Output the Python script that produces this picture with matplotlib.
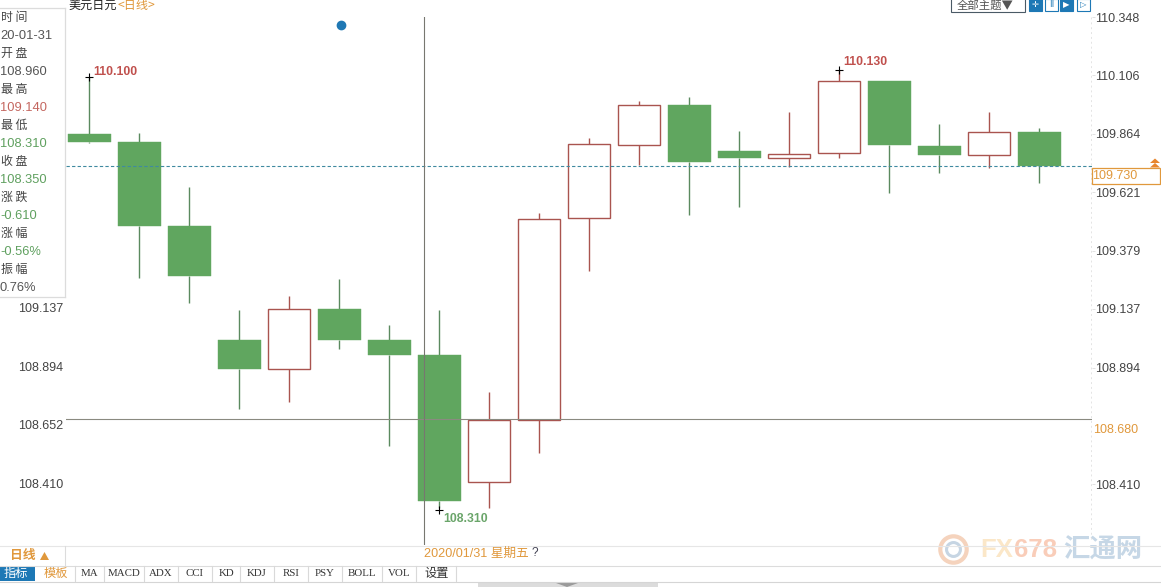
import matplotlib
matplotlib.use("Agg")
import matplotlib.pyplot as plt
from matplotlib.patches import Rectangle, Polygon

FONT = ['Liberation Sans', 'Noto Sans CJK SC', 'DejaVu Sans']
CJK = ['Noto Sans CJK SC', 'DejaVu Sans']
plt.rcParams['font.family'] = FONT

# ---- data -----------------------------------------------------------
opens  = [109.864, 109.831, 109.483, 109.010, 108.890, 109.138, 109.010, 108.948, 108.421, 108.678,
          109.516, 109.818, 109.984, 109.793, 109.765, 109.785, 110.084, 109.814, 109.777, 109.872]
closes = [109.831, 109.483, 109.275, 108.890, 109.138, 109.010, 108.948, 108.342, 108.678, 109.512,
          109.823, 109.984, 109.748, 109.765, 109.781, 110.084, 109.818, 109.777, 109.872, 109.730]
highs  = [110.100, 109.868, 109.644, 109.134, 109.192, 109.263, 109.072, 109.134, 108.794, 109.537,
          109.847, 110.001, 110.017, 109.876, 109.955, 110.129, 110.084, 109.905, 109.955, 109.889]
lows   = [109.827, 109.267, 109.163, 108.724, 108.753, 108.973, 108.570, 108.310, 108.310, 108.541,
          109.296, 109.735, 109.528, 109.561, 109.727, 109.765, 109.619, 109.702, 109.723, 109.661]
right_ticks = [110.348, 110.106, 109.864, 109.621, 109.379, 109.137, 108.894, 108.410]
left_ticks = [109.137, 108.894, 108.652, 108.410]
last_price = 109.730
cross_price = 108.680
cross_index = 7
info_labels = ['时 间', '开 盘', '最 高', '最 低', '收 盘', '涨 跌', '涨 幅', '振 幅']
info_values = ['20-01-31', '108.960', '109.140', '108.310', '108.350', '-0.610', '-0.56%', '0.76%']
info_colors = ['#555555', '#555555', '#c4665f', '#5fa05f', '#5fa05f', '#5fa05f', '#5fa05f', '#555555']
tool_tabs = ['MA', 'MACD', 'ADX', 'CCI', 'KD', 'KDJ', 'RSI', 'PSY', 'BOLL', 'VOL']

W, H = 1161, 587
GREEN = '#60a65f'
RED = '#a9544f'
WICK_G = '#5b8a5f'
ORANGE = '#e0983c'

fig = plt.figure(figsize=(W / 100, H / 100), dpi=100, facecolor='white')

# ---- price axes ------------------------------------------------------
L, R, T, B = 66, 1092, 17, 545
ax = fig.add_axes([L / W, 1 - B / H, (R - L) / W, (B - T) / H])
ax.set_xlim(-0.46, 20.06)
ax.set_ylim(108.158, 110.347)
for s in ax.spines.values():
    s.set_visible(False)
ax.set_xticks([])
ax.yaxis.tick_right()
ax.set_yticks(right_ticks)
ax.set_yticklabels([f'{v:.3f}' for v in right_ticks], fontsize=9, color='#444444')
ax.tick_params(axis='y', length=2, width=0.6, color='#dddddd', pad=0)

for i, (o, c, h, l) in enumerate(zip(opens, closes, highs, lows)):
    up = c > o
    col = RED if up else WICK_G
    bot, top = min(o, c), max(o, c)
    ax.plot([i, i], [top, h], color=col, lw=1.0, zorder=2, solid_capstyle='butt')
    ax.plot([i, i], [l, bot], color=col, lw=1.0, zorder=2, solid_capstyle='butt')
    if up:
        ax.add_patch(Rectangle((i - 0.42, bot), 0.84, top - bot, fc='white', ec=RED, lw=1.0, zorder=3))
    else:
        ax.add_patch(Rectangle((i - 0.43, bot), 0.86, top - bot, fc=GREEN, ec=GREEN, lw=0.3, zorder=3))

ax.axhline(last_price, color='#3f8aa0', lw=0.8, ls=(0, (3, 2)), zorder=4)
ax.axhline(cross_price, color='#8a8a80', lw=0.8, zorder=5)
ax.axvline(cross_index - 0.3, color='#777770', lw=0.8, zorder=5)

ax.plot([0], [highs[0]], marker='+', color='black', ms=5.5, mew=0.8, zorder=6)
ax.plot([15], [highs[15]], marker='+', color='black', ms=5.5, mew=0.8, zorder=6)
ax.plot([7], [lows[7] - 0.005], marker='+', color='black', ms=5.5, mew=0.8, zorder=6)
ax.annotate('110.100', (0, highs[0]), xytext=(3, -1), textcoords='offset points', color='#c0504d',
            fontsize=8.8, fontweight='bold', va='bottom', zorder=6)
ax.annotate('110.130', (15, highs[15]), xytext=(3, 1), textcoords='offset points', color='#c0504d',
            fontsize=8.8, fontweight='bold', va='bottom', zorder=6)
ax.annotate('108.310', (7, lows[7]), xytext=(3, -3), textcoords='offset points', color='#6aa56a',
            fontsize=8.8, fontweight='bold', va='top', zorder=6)

# ---- interface overlay, in pixel coordinates --------------------------
ui = fig.add_axes([0, 0, 1, 1], facecolor='none')
ui.set_xlim(0, W)
ui.set_ylim(H, 0)
ui.axis('off')

def txt(x, y, s, size=9, color='#444444', ha='left', fam=None, **kw):
    ui.text(x, y, s, fontsize=size, color=color, ha=ha, va='center', family=fam or FONT, **kw)

def hline(x0, x1, y, color='#d9d9d9', lw=0.8, **kw):
    ui.plot([x0, x1], [y, y], color=color, lw=lw, **kw)

def vline(x, y0, y1, color='#d9d9d9', lw=0.8, **kw):
    ui.plot([x, x], [y0, y1], color=color, lw=lw, **kw)

# left information panel
hline(0, 65, 8, color='#dcdcdc', lw=0.9)
hline(0, 65, 297, color='#dcdcdc', lw=0.9)
vline(65, 8, 297, color='#dcdcdc', lw=0.9)
for i, (lab, val, col) in enumerate(zip(info_labels, info_values, info_colors)):
    txt(1, 17 + 36 * i, lab, size=8.6, color='#444444', fam=CJK)
    txt(0, 36 + 36 * i, val, size=9.3, color=col)

for v in left_ticks:
    y = ax.transData.transform((0, v))[1]
    txt(63, H - y + 0.5, f'{v:.3f}', size=9, ha='right')

# title
txt(68, 5.5, '美元日元', size=8.7, color='#222222', fam=CJK)
txt(117, 5.5, '<日线>', size=8.7, color=ORANGE, fam=CJK)

# blue dot
ui.plot([340.5], [25], marker='o', ms=6, color='#1f78b4', mec='#1f78b4')

# top-right buttons
ui.add_patch(Rectangle((950.5, -2), 74, 13.5, fc='white', ec='#4a5a66', lw=0.8))
txt(957, 5.5, '全部主题▼', size=8.2, color='#555555', fam=CJK)
for x, filled, glyph in [(1029, True, '✛'), (1045, False, 'Ⅱ'), (1060, True, '▶'), (1077, False, '▷')]:
    ui.add_patch(Rectangle((x, -1), 13, 12, fc='#1d78b5' if filled else 'white', ec='#1d78b5', lw=0.8))
    txt(x + 6.5, 4.5, glyph, size=6, color='white' if filled else '#1d78b5', ha='center', fam=['DejaVu Sans'])

# right-hand current price box
vline(1091, 17, 540, color='#e4e4e4', lw=0.7, ls=(0, (2, 3)))
ui.add_patch(Rectangle((1091.5, 168), 68, 15.5, fc='white', ec=ORANGE, lw=0.9, zorder=6))
txt(1092, 176, '109.730', size=9, color=ORANGE, zorder=7)
txt(1093, 430, '108.680', size=9, color=ORANGE, zorder=7)
ui.add_patch(Polygon([[1150, 163], [1155, 158.5], [1160, 163]], fc='#e8862e', ec='none', zorder=7))
ui.add_patch(Polygon([[1150, 167.5], [1155, 163], [1160, 167.5]], fc='#e8862e', ec='none', zorder=7))

# bottom bars
hline(0, 1161, 545.5, color='#e6e6e6')
hline(0, 1161, 565.5, color='#dcdcdc')
hline(0, 1161, 581.5, color='#d5d5d5')
vline(65, 546, 565, color='#dcdcdc')
txt(10, 556, '日线', size=9.2, color=ORANGE, fam=CJK, fontweight='bold')
ui.add_patch(Polygon([[40, 560], [44.5, 552], [49, 560]], fc=ORANGE, ec='none'))
txt(424, 553.5, '2020/01/31 星期五', size=9.1, color=ORANGE, fam=FONT)
txt(532, 553.5, '?', size=8.6, color='#444455')

ui.add_patch(Rectangle((0, 566), 35, 15, fc='#1d78b5', ec='none', zorder=1))
txt(4, 573.5, '指标', size=8.8, color='white', fam=CJK, zorder=3)
txt(44, 573.5, '模板', size=8.8, color=ORANGE, fam=CJK)
vline(75, 566, 581)
tab_bounds = [75, 104, 144, 178, 212, 240, 274, 308, 342, 382, 416]
for name, x0, x1 in zip(tool_tabs, tab_bounds[:-1], tab_bounds[1:]):
    txt((x0 + x1) / 2, 573.5, name, size=7.8, color='#333333', ha='center', fam=['Liberation Serif'])
    vline(x1, 566, 581)
txt(424, 573.5, '设置', size=8.8, color='#333333', fam=CJK)
vline(456, 566, 581)
ui.add_patch(Rectangle((478, 583), 180, 4, fc='#dcdcdc', ec='none'))
ui.add_patch(Polygon([[556, 583], [578, 583], [567, 587]], fc='#9a9a9a', ec='none'))

# watermark
ui.plot([953], [549], marker='o', ms=19, mfc='none', mec='#f5d3bd', mew=3, zorder=1)
ui.plot([953], [549], marker='o', ms=10, mfc='none', mec='#c6d5e3', mew=2.2, zorder=1)
txt(980, 550, 'FX', size=18.5, color='#fbe7c8', fontweight='bold', zorder=1)
txt(1014, 550, '678', size=18.5, color='#f9cdb9', fontweight='bold', zorder=1)
txt(1063, 550, '汇通网', size=19, color='#c6d7e6', fam=CJK, fontweight='bold', zorder=1)

fig.savefig('out.png', dpi=100, facecolor='white')
